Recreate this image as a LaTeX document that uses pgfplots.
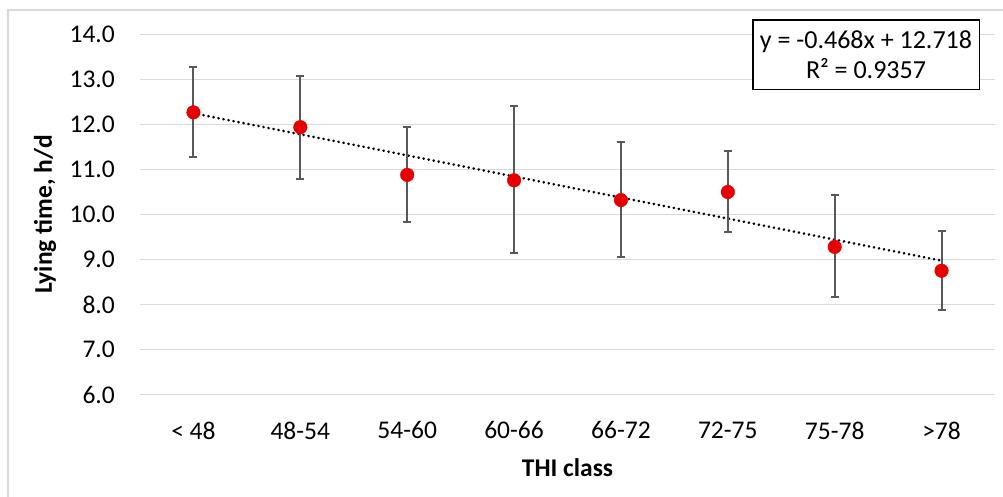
\documentclass[border=0pt]{standalone}
\usepackage{fontspec}
\setmainfont{Carlito}
\usepackage{pgfplots}
\pgfplotsset{compat=1.18}
\definecolor{gridgray}{HTML}{D9D9D9}
\definecolor{errgray}{HTML}{595959}
\definecolor{ptred}{HTML}{E60000}
\begin{document}
\begin{tikzpicture}[x=1pt,y=1pt]
\path[use as bounding box] (0,0) rectangle (1003,497);
\draw[gridgray, line width=1.2pt] (8,0) -- (8,487) -- (1003,487);
\begin{axis}[
  at={(140pt,102.5pt)}, anchor=south west,
  scale only axis, width=855pt, height=360pt,
  xmin=-0.5, xmax=7.5, ymin=6, ymax=14,
  ytick={6,7,...,14}, xtick={0,1,...,7},
  xticklabels={{< 48},{48-54},{54-60},{60-66},{66-72},{72-75},{75-78},{>78}},
  axis line style={draw=none}, major tick length=0pt,
  ymajorgrids, grid style={gridgray, line width=1.6pt},
  /pgf/number format/assume math mode=true,
  /pgf/number format/fixed, /pgf/number format/fixed zerofill, /pgf/number format/precision=1,
  ticklabel style={font=\fontsize{25.5}{30}\selectfont},
  yticklabel style={anchor=east, inner sep=0pt, xshift=-25pt},
  xticklabel style={anchor=north, inner sep=0pt, yshift=-27pt},
  clip=false,
]
\addplot[black, line width=2.8pt, line cap=round, dash pattern=on 0.1pt off 5pt] coordinates {(0,12.250) (7,8.974)};
\addplot[only marks, mark=*, mark size=6.8pt, mark options={fill=ptred, draw=ptred},
  error bars/.cd, y dir=both, y explicit,
  error bar style={errgray, line width=2pt},
  error mark options={rotate=90, mark size=4pt, errgray, line width=2pt}]
coordinates {
  (0,12.27) += (0,1.01) -= (0,0.99)
  (1,11.94) += (0,1.14) -= (0,1.15)
  (2,10.88) += (0,1.06) -= (0,1.04)
  (3,10.76) += (0,1.64) -= (0,1.62)
  (4,10.32) += (0,1.28) -= (0,1.26)
  (5,10.50) += (0,0.91) -= (0,0.88)
  (6,9.28) += (0,1.15) -= (0,1.11)
  (7,8.75) += (0,0.88) -= (0,0.88)
};
\end{axis}
\node[draw=black, line width=1.6pt, fill=white, minimum width=226.6pt, minimum height=69.3pt, align=center, inner sep=0pt, font=\fontsize{26}{30}\selectfont] at (866,442.3) {y = -0.468x + 12.718\\R² = 0.9357};
\node[rotate=90, font=\bfseries\fontsize{25.5}{30}\selectfont] at (45,282.5) {Lying time, h/d};
\node[font=\bfseries\fontsize{25.5}{30}\selectfont] at (567.5,29) {THI class};
\end{tikzpicture}
\end{document}
